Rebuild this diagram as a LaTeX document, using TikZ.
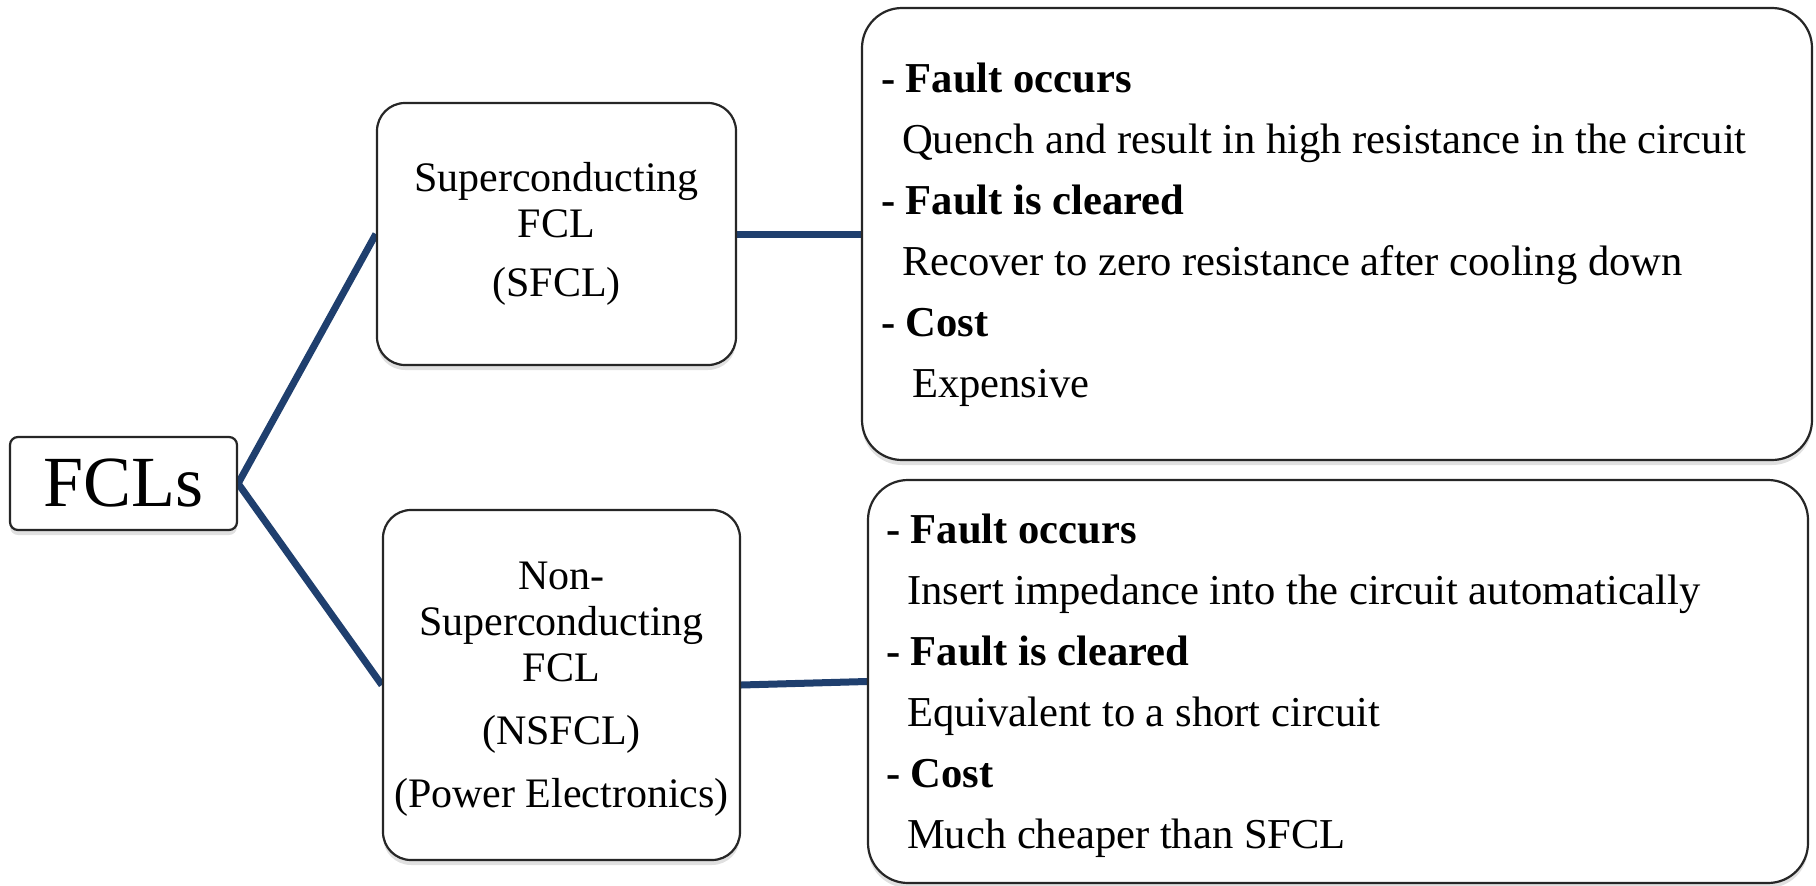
\documentclass[tikz,border=0pt]{standalone}
\usepackage{fontspec}
\setmainfont{Liberation Serif}
\usepackage{tikz}
\usetikzlibrary{positioning,shadows,backgrounds}
\definecolor{linkblue}{HTML}{1F3F6E}

\tikzset{
  box/.style={draw=black!85, line width=2.2pt, fill=white, align=center, inner sep=0pt,
    execute at begin node={\spaceskip=0.25em\relax},
    drop shadow={shadow xshift=0pt, shadow yshift=-5pt, fill=black!12, opacity=1}},
  link/.style={draw=linkblue, line width=7pt},
  midtxt/.style={font=\fontsize{42}{46}\selectfont},
  infotxt/.style={font=\fontsize{42.6}{61}\selectfont, align=left}
}

\begin{document}
\begin{tikzpicture}[x=1pt,y=-1pt]
\useasboundingbox (0,0) rectangle (1816,886);
% radice
\node[box, rounded corners=8pt, minimum width=227pt, minimum height=93pt,
  font=\fontsize{72}{80}\selectfont] (fcls) at (123.5,483.5) {FCLs};
% due famiglie
\node[box, midtxt, rounded corners=28pt, minimum width=359pt, minimum height=262pt]
  (sfcl) at (556.5,234) {Superconducting\\FCL\\[13pt](SFCL)};
\node[box, midtxt, rounded corners=28pt, minimum width=357pt, minimum height=350pt]
  (nsfcl) at (561.5,685) {\rule{0pt}{36pt}Non-\\Superconducting\\FCL\\[17pt](NSFCL)\\[17pt](Power Electronics)};
% descrizioni
\node[box, infotxt, rounded corners=40pt, minimum width=950pt, minimum height=452pt,
  text width=912pt] (sfclinfo) at (1337,234) {%
  \rule{0pt}{32pt}\textbf{- Fault occurs}\\
  \hspace*{21pt}Quench and result in high resistance in the circuit\\
  \textbf{- Fault is cleared}\\
  \hspace*{21pt}Recover to zero resistance after cooling down\\
  \textbf{- Cost}\\
  \hspace*{31pt}Expensive};
\node[box, infotxt, rounded corners=40pt, minimum width=940pt, minimum height=403pt,
  text width=904pt] (nsfclinfo) at (1338,681.5) {%
  \rule{0pt}{39pt}\textbf{- Fault occurs}\\
  \hspace*{21pt}Insert impedance into the circuit automatically\\
  \textbf{- Fault is cleared}\\
  \hspace*{21pt}Equivalent to a short circuit\\
  \textbf{- Cost}\\
  \hspace*{21pt}Much cheaper than SFCL};
% collegamenti
\begin{scope}[on background layer]
\draw[link] (fcls.east) -- (sfcl.west);
\draw[link] (fcls.east) -- (nsfcl.west);
\draw[link] (sfcl.east) -- (sfclinfo.west);
\draw[link] (nsfcl.east) -- (nsfclinfo.west);
\end{scope}
\end{tikzpicture}
\end{document}
